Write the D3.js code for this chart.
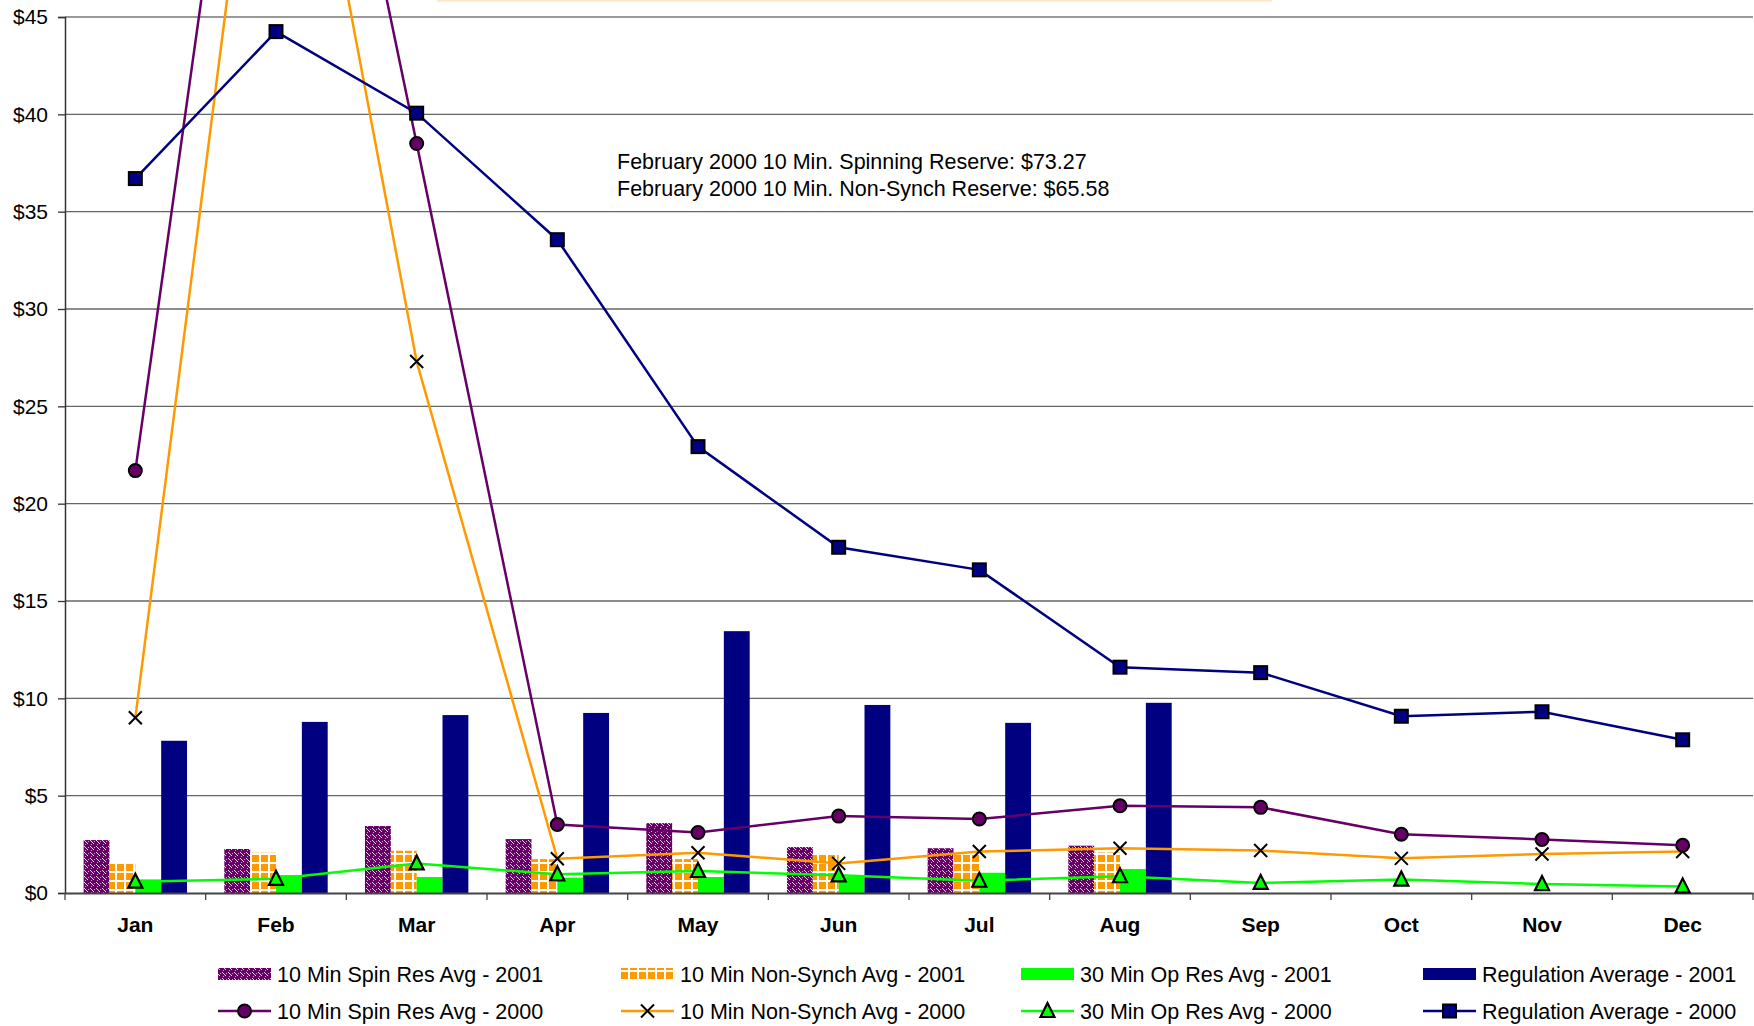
<!DOCTYPE html>
<html>
<head>
<meta charset="utf-8">
<script src="https://d3js.org/d3.v7.min.js"></script>
<style>
  body { margin: 0; background: #fff; }
  text { font-family: Arial, "Liberation Sans", sans-serif; }
</style>
</head>
<body>
<div id="chart"></div>
<script>
// month categories
var months = ["Jan","Feb","Mar","Apr","May","Jun","Jul","Aug","Sep","Oct","Nov","Dec"];
var yTicks = [0,5,10,15,20,25,30,35,40,45];

// 2001 bars (Jan..Aug only)
var spin2001 = [2.72,2.26,3.44,2.77,3.59,2.36,2.30,2.43];
var nonSynch2001 = [1.55,2.07,2.17,1.74,1.74,1.95,2.00,2.08];
var opRes2001 = [0.70,0.92,0.82,0.79,0.82,0.82,1.04,1.23];
var reg2001 = [7.82,8.79,9.14,9.25,13.45,9.66,8.74,9.77];

// 2000 lines
var spin2000 = [21.7,73.27,38.5,3.52,3.11,3.95,3.80,4.48,4.40,3.02,2.75,2.45];
var nonSynch2000 = [9.0,65.58,27.3,1.76,2.07,1.52,2.13,2.30,2.18,1.78,2.00,2.13];
var opRes2000 = [0.58,0.73,1.52,0.96,1.13,0.91,0.63,0.86,0.52,0.69,0.46,0.34];
var reg2000 = [36.7,44.25,40.06,33.56,22.93,17.76,16.6,11.6,11.32,9.08,9.31,7.87];

var noteLines = ["February 2000 10 Min. Spinning Reserve: $73.27",
                 "February 2000 10 Min. Non-Synch Reserve: $65.58"];

var W = 1754, H = 1026;
var svg = d3.select('#chart').append('svg')
  .attr('width', W).attr('height', H);

var defs = svg.append('defs');
// purple confetti pattern
var p1 = defs.append('pattern').attr('id','pSpin').attr('patternUnits','userSpaceOnUse')
  .attr('width',6).attr('height',6);
p1.append('rect').attr('width',6).attr('height',6).attr('fill','#660066');
p1.append('path').attr('d','M0,0h1v1h-1zM3,3h1v1h-1zM1,1h1v1h-1zM2,2h1v1h-1z').attr('fill','#e8d0e8');
p1.append('path').attr('d','M4,1h1v1h-1zM1,4h1v1h-1z').attr('fill','#c8a0c8');
// orange grid pattern
var p2 = defs.append('pattern').attr('id','pNon').attr('patternUnits','userSpaceOnUse')
  .attr('width',9).attr('height',9);
p2.append('rect').attr('width',9).attr('height',9).attr('fill','#fff');
p2.append('rect').attr('x',0).attr('y',0).attr('width',7).attr('height',7).attr('fill','#ff9900');

var x = d3.scaleBand().domain(months).range([65, 1753]);
var y = d3.scaleLinear().domain([0,45]).range([893, 17]);
var bw = x.bandwidth();
var gW = bw * 0.735;
var barKeys = ["spin","non","op","reg"];
var x1 = d3.scaleBand().domain(barKeys).range([(bw-gW)/2, (bw+gW)/2]);

// faint box edge at top
svg.append('rect').attr('x',437).attr('y',0).attr('width',835).attr('height',1.5).attr('fill','#fde6c6');

// gridlines
svg.append('g').selectAll('line').data(yTicks.filter(function(d){return d>0;})).enter()
  .append('line')
  .attr('x1',65).attr('x2',1753)
  .attr('y1',function(d){return y(d);}).attr('y2',function(d){return y(d);})
  .attr('stroke',function(d){return d===45 ? '#999' : '#666';})
  .attr('stroke-width',function(d){return d===45 ? 2 : 1.3;});

// y axis
var yAxis = d3.axisLeft(y).tickValues(yTicks).tickSize(7).tickFormat(function(d){return '$'+d;});
var gy = svg.append('g').attr('transform','translate(65,0)').call(yAxis);
gy.select('.domain').attr('stroke','#333').attr('stroke-width',1.5);
gy.selectAll('.tick line').attr('stroke','#333').attr('stroke-width',1.3);
gy.selectAll('.tick text').attr('font-size','21px').attr('fill','#000').attr('x',-17);

// bars
var barSeries = [
  {key:"spin", vals:spin2001, fill:"url(#pSpin)"},
  {key:"non", vals:nonSynch2001, fill:"url(#pNon)"},
  {key:"op", vals:opRes2001, fill:"#00ff00"},
  {key:"reg", vals:reg2001, fill:"#000080"}
];
barSeries.forEach(function(s){
  svg.append('g').selectAll('rect').data(s.vals).enter()
    .append('rect')
    .attr('x',function(d,i){return x(months[i]) + x1(s.key);})
    .attr('width',x1.bandwidth())
    .attr('y',function(d){return y(d);})
    .attr('height',function(d){return y(0)-y(d);})
    .attr('fill',s.fill);
});

// x axis
var xAxis = d3.axisBottom(x).tickSize(0).tickFormat(function(d){return d;});
var gx = svg.append('g').attr('transform','translate(0,893)').call(xAxis);
gx.select('.domain').attr('stroke','#444').attr('stroke-width',2);
gx.selectAll('.tick text').attr('font-size','21px').attr('font-weight','bold').attr('fill','#000').attr('dy','1.7em');
svg.append('g').selectAll('line').data(months.concat(['end'])).enter()
  .append('line')
  .attr('x1',function(d){return d==='end' ? 1753 : x(d);})
  .attr('x2',function(d){return d==='end' ? 1753 : x(d);})
  .attr('y1',893).attr('y2',900)
  .attr('stroke','#444').attr('stroke-width',1.3);

// lines
var cx = function(i){return x(months[i]) + bw/2;};
var line = d3.line().x(function(d,i){return cx(i);}).y(function(d){return y(d);});

var lineSeries = [
  {vals:opRes2000, color:"#00ff00", marker:"tri", fill:"#00ff00"},
  {vals:nonSynch2000, color:"#ff9900", marker:"x", fill:"none"},
  {vals:spin2000, color:"#660066", marker:"circle", fill:"#660066"},
  {vals:reg2000, color:"#000080", marker:"square", fill:"#000080"}
];

function drawMarker(g, type, fill, px, py) {
  if (type === 'circle') {
    g.append('circle').attr('cx',px).attr('cy',py).attr('r',6.5)
      .attr('fill',fill).attr('stroke','#000').attr('stroke-width',2);
  } else if (type === 'square') {
    g.append('rect').attr('x',px-6.5).attr('y',py-6.5).attr('width',13).attr('height',13)
      .attr('fill',fill).attr('stroke','#000').attr('stroke-width',2);
  } else if (type === 'tri') {
    g.append('path').attr('d','M'+px+','+(py-8)+'L'+(px+7)+','+(py+6)+'L'+(px-7)+','+(py+6)+'Z')
      .attr('fill',fill).attr('stroke','#000').attr('stroke-width',2.2);
  } else if (type === 'x') {
    g.append('path').attr('d','M'+(px-6.5)+','+(py-6.5)+'L'+(px+6.5)+','+(py+6.5)+'M'+(px+6.5)+','+(py-6.5)+'L'+(px-6.5)+','+(py+6.5))
      .attr('stroke','#000').attr('stroke-width',2).attr('fill','none');
  }
}

lineSeries.forEach(function(s){
  svg.append('path').datum(s.vals).attr('d',line)
    .attr('fill','none').attr('stroke',s.color).attr('stroke-width',2.5);
});
lineSeries.forEach(function(s){
  var g = svg.append('g');
  s.vals.forEach(function(v,i){
    if (y(v) > 0) drawMarker(g, s.marker, s.fill, cx(i), y(v));
  });
});

// annotation
svg.append('g').selectAll('text').data(noteLines).enter()
  .append('text')
  .attr('x',617).attr('y',function(d,i){return 169 + i*27;})
  .attr('font-size','21.5px').attr('fill','#000')
  .text(function(d){return d;});

// legend
var legendBars = [
  {label:"10 Min Spin Res Avg - 2001", fill:"url(#pSpin)"},
  {label:"10 Min Non-Synch Avg - 2001", fill:"url(#pNon)"},
  {label:"30 Min Op Res Avg - 2001", fill:"#00ff00"},
  {label:"Regulation Average - 2001", fill:"#000080"}
];
var legendLines = [
  {label:"10 Min Spin Res Avg - 2000", s:lineSeries[2]},
  {label:"10 Min Non-Synch Avg - 2000", s:lineSeries[1]},
  {label:"30 Min Op Res Avg - 2000", s:lineSeries[0]},
  {label:"Regulation Average - 2000", s:lineSeries[3]}
];
var colX = [218, 621, 1021, 1423];
var row1 = 974, row2 = 1011;
legendBars.forEach(function(d,i){
  svg.append('rect').attr('x',colX[i]).attr('y',row1-6).attr('width',53).attr('height',12).attr('fill',d.fill);
  svg.append('text').attr('x',colX[i]+59).attr('y',row1+7.5).attr('font-size','21.5px').text(d.label);
});
legendLines.forEach(function(d,i){
  var g = svg.append('g');
  g.append('line').attr('x1',colX[i]).attr('x2',colX[i]+53).attr('y1',row2).attr('y2',row2)
    .attr('stroke',d.s.color).attr('stroke-width',2.5);
  drawMarker(g, d.s.marker, d.s.fill, colX[i]+26.5, row2);
  svg.append('text').attr('x',colX[i]+59).attr('y',row2+7.5).attr('font-size','21.5px').text(d.label);
});
</script>
</body>
</html>
